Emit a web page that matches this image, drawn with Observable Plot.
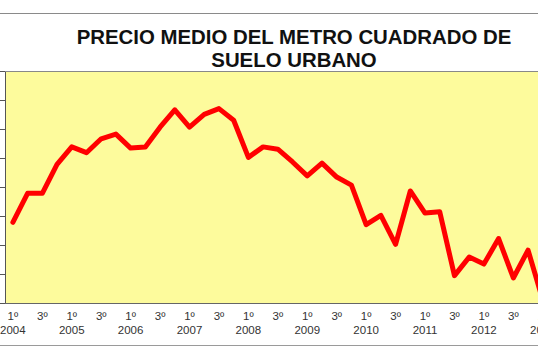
<!DOCTYPE html>
<html>
<head>
<meta charset="utf-8">
<script src="https://cdn.jsdelivr.net/npm/d3@7"></script>
<script src="https://cdn.jsdelivr.net/npm/@observablehq/plot@0.6"></script>
<style>
  html, body { margin: 0; padding: 0; background: #fff; }
  #wrap { position: relative; width: 538px; height: 357px; overflow: hidden; background: #fff; font-family: "Liberation Sans", Arial, sans-serif; }
  #topline { position: absolute; left: 0; top: 13px; width: 600px; height: 1px; background: #8a8a8a; }
  #bottomline { position: absolute; left: 0; top: 345px; width: 600px; height: 1px; background: #9a9a9a; }
  #title { position: absolute; left: 0; top: 25.5px; width: 588px; text-align: center; font-weight: bold; font-size: 20.4px; line-height: 23px; color: #111; }
  #chart { position: absolute; left: 0; top: 70px; width: 560px; }
  #chart svg { max-width: none !important; }
</style>
</head>
<body>
<div id="wrap">
  <div id="topline"></div>
  <div id="title">PRECIO MEDIO DEL METRO CUADRADO DE<br>SUELO URBANO</div>
  <div id="chart"></div>
  <div id="bottomline"></div>
</div>
<script>
// Quarters from 2004 Q1 to 2013 Q1
const years = [2004, 2005, 2006, 2007, 2008, 2009, 2010, 2011, 2012, 2013];
const quarterNames = ["1º", "2º", "3º", "4º"];
// Estimated price per quarter (arbitrary units, axis labels are cropped in the reference)
const precio = [
  170, 195, 195, 220,
  235, 230, 242, 246,
  234, 235, 252, 267,
  252, 263, 268, 258,
  226, 235, 233, 222,
  210, 221, 209, 202,
  168, 176, 151, 197,
  178, 179, 124, 140,
  134, 156, 122, 146,
  103
];
const yTicks = [100, 125, 150, 175, 200, 225, 250, 275, 300];

const data = precio.map((v, i) => ({
  i,
  year: years[Math.floor(i / 4)],
  q: i % 4,
  value: v
}));
const xTicks = data.filter(d => d.q === 0 || d.q === 2).map(d => d.i);
const labelOf = i => {
  const d = data[i];
  return d.q === 0 ? quarterNames[0] + "\n" + d.year : quarterNames[2];
};

const chart = Plot.plot({
  width: 560,
  height: 275,
  marginLeft: 5,
  marginRight: 10.36,
  marginTop: 1,
  marginBottom: 42,
  style: { fontFamily: "Liberation Sans, Arial, sans-serif", background: "transparent", overflow: "visible", maxWidth: "none" },
  x: { domain: [-0.5, precio.length - 0.5] },
  y: { domain: [100, 300] },
  marks: [
    Plot.frame({ fill: "#fdfb9c", stroke: "none" }),
    Plot.axisY({ ticks: yTicks, tickSize: 5, fill: "none", stroke: "#555", label: null }),
    Plot.axisX({
      ticks: xTicks,
      tickSize: 0,
      tickPadding: 7,
      tickFormat: labelOf,
      fontSize: 11.5,
      lineHeight: 1.2,
      fill: "#333",
      label: null
    }),
    Plot.lineY(data, {
      x: "i",
      y: "value",
      stroke: "#ff0000",
      strokeWidth: 5,
      strokeLinejoin: "round"
    }),
    Plot.ruleY([100], { stroke: "#666", strokeWidth: 1 }),
    Plot.ruleX([-0.5], { stroke: "#555", strokeWidth: 1 }),
    Plot.ruleY([300], { stroke: "#888", strokeWidth: 1 })
  ]
});
document.getElementById("chart").appendChild(chart);
</script>
</body>
</html>
